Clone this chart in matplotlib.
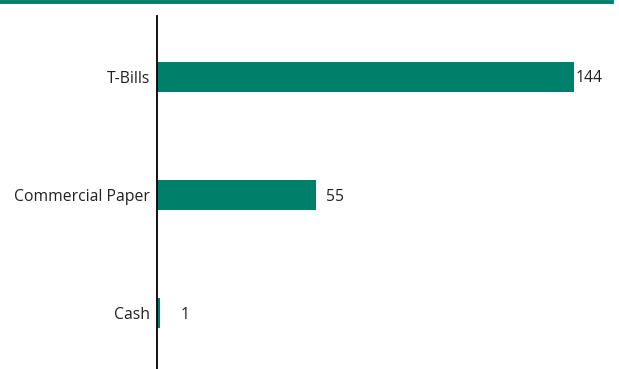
import matplotlib.pyplot as plt
from matplotlib.lines import Line2D

categories = ['T-Bills', 'Commercial Paper', 'Cash']
values = [144, 55, 1]
label_pad = [2, 10, 21]  # pixel gap between bar end and value label

green = '#00806a'

plt.rcParams['font.family'] = ['Open Sans', 'DejaVu Sans']

fig = plt.figure(figsize=(6.19, 3.69), dpi=100)
ax = fig.add_axes([157 / 619, 0, 1 - 157 / 619, 1 - 16 / 369])

ypos = list(range(len(categories)))
ax.barh(ypos, values, height=0.253, color=green)

for y, v, p in zip(ypos, values, label_pad):
    ax.annotate(str(v), (v, y), xytext=(p * 0.72, -1), textcoords='offset points',
                va='center', ha='left', fontsize=11.3, color='#222222')

ax.set_yticks(ypos)
ax.set_yticklabels(categories, fontsize=11.3, color='#222222')
ax.tick_params(axis='y', length=0, pad=5)
ax.set_xticks([])
ax.set_xlim(0, 159.6)
ax.set_ylim(2.47, -0.515)

for s in ['top', 'right', 'bottom']:
    ax.spines[s].set_visible(False)
ax.spines['left'].set_linewidth(1.3)
ax.spines['left'].set_color('black')

# green rule along the top
fig.add_artist(Line2D([0, 612 / 619], [1 - 1.5 / 369, 1 - 1.5 / 369],
                      color=green, linewidth=2.8, transform=fig.transFigure))

fig.savefig('out.png', dpi=100)
